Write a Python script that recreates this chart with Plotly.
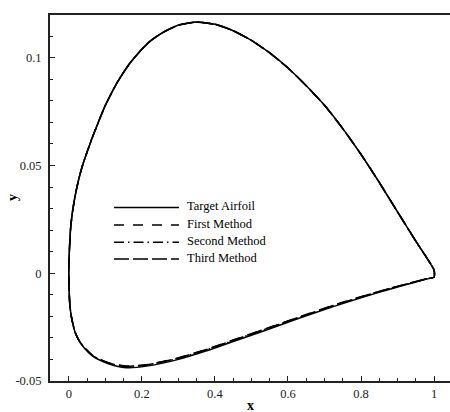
import plotly.graph_objects as go

# Upper surface, leading edge -> trailing edge (shared by all methods)
x_upper = [0.0, 0.001, 0.0025, 0.005, 0.01, 0.018, 0.027, 0.0375, 0.05, 0.062, 0.08, 0.099, 0.131,
           0.167, 0.20, 0.222, 0.258, 0.30, 0.35, 0.40, 0.45, 0.50, 0.55, 0.60, 0.65, 0.70, 0.75,
           0.80, 0.85, 0.90, 0.95, 1.0]
y_upper = [0.0, 0.008, 0.014, 0.021, 0.0285, 0.0365, 0.0435, 0.050, 0.0562, 0.0619, 0.0697, 0.0775, 0.0881,
           0.0974, 0.1039, 0.1076, 0.1117, 0.1151, 0.1165, 0.1155, 0.1125, 0.1080, 0.1022, 0.0952, 0.0870,
           0.0779, 0.0671, 0.0551, 0.0421, 0.0284, 0.0149, 0.0014]

# Lower surface, leading edge -> trailing edge
x_lower = [0.0, 0.0003, 0.001, 0.003, 0.0074, 0.0164, 0.027, 0.039, 0.0665, 0.10, 0.121, 0.158, 0.213,
           0.295, 0.377, 0.45, 0.541, 0.632, 0.724, 0.815, 0.879, 0.94, 0.979, 1.0]
y_lower_target = [0.0, -0.005, -0.009, -0.015, -0.0205, -0.0270, -0.0310, -0.0340, -0.0386, -0.0415, -0.0427,
                  -0.0438, -0.0431, -0.0402, -0.0360, -0.0317, -0.0263, -0.0208, -0.0155, -0.0106, -0.0074,
                  -0.0045, -0.0027, -0.0018]
y_lower_first = [0.0, -0.005, -0.009, -0.015, -0.0205, -0.0270, -0.0309, -0.0338, -0.0383, -0.0410, -0.0421,
                 -0.0431, -0.0424, -0.0395, -0.0353, -0.0310, -0.0256, -0.0202, -0.0149, -0.0101, -0.0070,
                 -0.0043, -0.0026, -0.0018]
y_lower_second = [0.0, -0.005, -0.009, -0.015, -0.0205, -0.0270, -0.0309, -0.0339, -0.0384, -0.0412, -0.0423,
                  -0.0433, -0.0426, -0.0397, -0.0355, -0.0312, -0.0258, -0.0204, -0.0151, -0.0103, -0.0071,
                  -0.0044, -0.0026, -0.0018]
y_lower_third = [0.0, -0.005, -0.009, -0.015, -0.0205, -0.0270, -0.0309, -0.0338, -0.0384, -0.0411, -0.0422,
                 -0.0432, -0.0425, -0.0396, -0.0354, -0.0311, -0.0257, -0.0203, -0.0150, -0.0102, -0.0071,
                 -0.0043, -0.0026, -0.0018]

series_names = ["Target Airfoil", "First Method", "Second Method", "Third Method"]
series_lower = [y_lower_target, y_lower_first, y_lower_second, y_lower_third]
series_dash = ["solid", "10px,9px", "10px,4px,1.5px,4px", "15px,4px"]

x_ticks = [0, 0.2, 0.4, 0.6, 0.8, 1.0]
x_tick_text = ["0", "0.2", "0.4", "0.6", "0.8", "1"]
y_ticks = [-0.05, 0, 0.05, 0.1]
y_tick_text = ["-0.05", "0", "0.05", "0.1"]

FONT = "Liberation Serif"

W, H = 450, 412
ML, MR, MT, MB = 50, 0, 15, 31
PW, PH = W - ML - MR, H - MT - MB


def px_to_paper(px, py):
    return (px - ML) / PW, (H - MB - py) / PH


fig = go.Figure()

# Closed contour: trailing edge -> upper surface -> leading edge -> lower surface -> trailing edge
for name, ylow, dash in zip(series_names, series_lower, series_dash):
    xs = x_upper[::-1] + x_lower[1:] + [x_upper[-1]]
    ys = y_upper[::-1] + ylow[1:] + [y_upper[-1]]
    fig.add_trace(go.Scatter(
        x=xs, y=ys, mode="lines", name=name,
        line=dict(color="black", width=1.5, dash=dash, shape="spline", smoothing=0.5),
        showlegend=False,
    ))

# Legend block: line samples and labels
shapes = []
annotations = []
row_y = [207.5, 225, 242.3, 259]
for name, dash, ry in zip(series_names, series_dash, row_y):
    x0, y0 = px_to_paper(114, ry)
    x1, _ = px_to_paper(179, ry)
    shapes.append(dict(type="line", xref="paper", yref="paper", x0=x0, x1=x1, y0=y0, y1=y0,
                       line=dict(color="black", width=1.5, dash=dash)))
    tx, ty = px_to_paper(185, ry - 1.5)
    annotations.append(dict(xref="paper", yref="paper", x=tx, y=ty, text=name, showarrow=False,
                            xanchor="left", yanchor="middle",
                            font=dict(family=FONT, size=12.5, color="black")))

# Axis titles
ax_x, ax_y = px_to_paper(251, 405)
annotations.append(dict(xref="paper", yref="paper", x=ax_x, y=ax_y, text="<b>x</b>", showarrow=False,
                        xanchor="center", yanchor="middle", font=dict(family=FONT, size=14, color="black")))
ay_x, ay_y = px_to_paper(12, 198)
annotations.append(dict(xref="paper", yref="paper", x=ay_x, y=ay_y, text="<b>y</b>", showarrow=False,
                        xanchor="center", yanchor="middle", textangle=-90,
                        font=dict(family=FONT, size=14, color="black")))

fig.update_layout(
    width=W, height=H,
    margin=dict(l=ML, r=MR, t=MT, b=MB, pad=0),
    paper_bgcolor="white", plot_bgcolor="white",
    font=dict(family=FONT, size=12.5, color="black"),
    shapes=shapes, annotations=annotations,
    xaxis=dict(
        range=[-0.0515, 1.0435], showgrid=False, zeroline=False,
        showline=True, linecolor="#222", linewidth=2, mirror=True,
        tickmode="array", tickvals=x_ticks, ticktext=x_tick_text,
        ticks="inside", ticklen=5, tickwidth=1.3, tickcolor="#222",
        minor=dict(dtick=0.05, tick0=0, ticks="inside", ticklen=3, tickwidth=1, tickcolor="#222"),
        tickfont=dict(family=FONT, size=12.5, color="#222"),
    ),
    yaxis=dict(
        range=[-0.05, 0.1198], showgrid=False, zeroline=False,
        showline=True, linecolor="#222", linewidth=2, mirror=False,
        tickmode="array", tickvals=y_ticks, ticktext=y_tick_text,
        ticks="inside", ticklen=5, tickwidth=1.3, tickcolor="#222",
        minor=dict(dtick=0.01, tick0=0, ticks="inside", ticklen=3, tickwidth=1, tickcolor="#222"),
        tickfont=dict(family=FONT, size=12.5, color="#222"),
        ticklabelstandoff=4,
    ),
)

fig.write_html("out.html")
